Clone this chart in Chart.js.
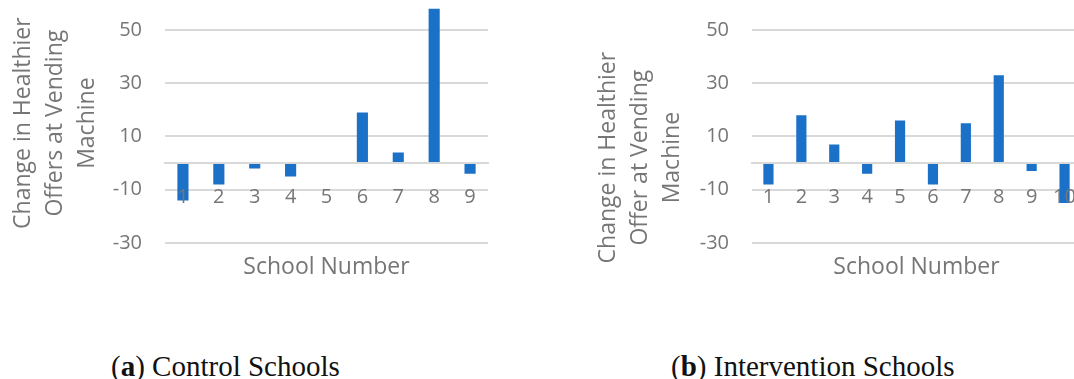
<!DOCTYPE html>
<html>
<head>
<meta charset="utf-8">
<script src="https://cdn.jsdelivr.net/npm/chart.js@4.4.1/dist/chart.umd.min.js"></script>
<style>
  html, body { margin: 0; padding: 0; background: #fff; }
  body { width: 1074px; height: 379px; position: relative; overflow: hidden; }
  #left { position: absolute; left: 0; top: 0; width: 500px; height: 300px; }
  #rightWrap { position: absolute; left: 560px; top: 0; width: 514px; height: 300px; overflow: hidden; }
  #right { position: absolute; left: 0; top: 0; width: 540px; height: 300px; }
  .caption { position: absolute; top: 352px; font-family: "Liberation Serif", serif; font-size: 29px; line-height: 29px; color: #111; white-space: nowrap; }
</style>
</head>
<body>
<canvas id="left" width="500" height="300"></canvas>
<div id="rightWrap"><canvas id="right" width="540" height="300"></canvas></div>
<div class="caption" style="left:111px">(<b>a</b>) Control Schools</div>
<div class="caption" style="left:671px">(<b>b</b>) Intervention Schools</div>
<script>
// School numbers and change in healthier vending offers per school
const CONTROL_SCHOOLS = ['1', '2', '3', '4', '5', '6', '7', '8', '9'];
const CONTROL_CHANGE = [-14, -8, -2, -5, 0, 19, 4, 58, -4];

const INTERVENTION_SCHOOLS = ['1', '2', '3', '4', '5', '6', '7', '8', '9', '10'];
const INTERVENTION_CHANGE = [-8, 18, 7, -4, 16, -8, 15, 33, -3, -15];

const Y_TICKS = [-30, -10, 10, 30, 50];
const Y_MIN = -30;
const Y_MAX = 60;

const X_TITLE = 'School Number';
const CONTROL_Y_TITLE = ['Change in Healthier', 'Offers at Vending', 'Machine'];
const INTERVENTION_Y_TITLE = ['Change in Healthier', 'Offer at Vending', 'Machine'];

const BAR_COLOR = '#1b70c8';
const GRID_COLOR = '#d9d9d9';
const TEXT_COLOR = '#767676';
const FONT_FAMILY = '"Open Sans", sans-serif';

// Draws the category-axis title under the plot and a multi-line rotated value-axis title
const axisTitles = {
  id: 'axisTitles',
  afterDraw(chart, args, o) {
    const { ctx, chartArea: a } = chart;
    ctx.save();
    ctx.fillStyle = TEXT_COLOR;
    ctx.font = '23px ' + FONT_FAMILY;
    ctx.textAlign = 'center';
    ctx.textBaseline = 'alphabetic';
    ctx.fillText(o.xTitle, (a.left + a.right) / 2, a.bottom + o.xGap);

    const n = o.yTitle.length;
    ctx.translate(a.left + o.yCenter, (a.top + a.bottom) / 2 + o.yShift);
    ctx.rotate(-Math.PI / 2);
    ctx.textBaseline = 'middle';
    o.yTitle.forEach((line, i) => {
      ctx.fillText(line, 0, (i - (n - 1) / 2) * o.lineGap);
    });
    ctx.restore();
  }
};

function makeChart(canvasId, labels, values, yTitle, layoutPad, axisWidth, titleOpts) {
  return new Chart(document.getElementById(canvasId), {
    type: 'bar',
    data: {
      labels: labels,
      datasets: [{
        data: values,
        backgroundColor: BAR_COLOR,
        borderWidth: 0,
        barPercentage: 0.31,
        categoryPercentage: 1.0
      }]
    },
    options: {
      responsive: false,
      animation: false,
      layout: { padding: layoutPad },
      plugins: {
        legend: { display: false },
        tooltip: { enabled: false },
        axisTitles: Object.assign({ xTitle: X_TITLE, yTitle: yTitle }, titleOpts)
      },
      scales: {
        x: {
          type: 'category',
          position: { y: 0 },
          offset: true,
          grid: { display: false },
          border: { display: true, color: GRID_COLOR, width: 2, z: 1 },
          ticks: {
            color: TEXT_COLOR,
            font: { family: FONT_FAMILY, size: 20 },
            padding: 14,
            maxRotation: 0,
            autoSkip: false,
            z: 1
          }
        },
        y: {
          min: Y_MIN,
          max: Y_MAX,
          afterBuildTicks: (s) => { s.ticks = Y_TICKS.map(v => ({ value: v })); },
          afterFit: (s) => { s.width = axisWidth; s.paddingTop = 0; s.paddingBottom = 0; },
          grid: { color: GRID_COLOR, lineWidth: 2, drawTicks: false },
          border: { display: false },
          ticks: {
            color: TEXT_COLOR,
            font: { family: FONT_FAMILY, size: 20 },
            padding: 23
          }
        }
      }
    },
    plugins: [axisTitles]
  });
}

makeChart('left', CONTROL_SCHOOLS, CONTROL_CHANGE, CONTROL_Y_TITLE,
  { left: 0, top: 3.3, right: 12, bottom: 57 }, 165,
  { xGap: 31, yCenter: -110, yShift: 0, lineGap: 32 });

makeChart('right', INTERVENTION_SCHOOLS, INTERVENTION_CHANGE, INTERVENTION_Y_TITLE,
  { left: 0, top: 3.3, right: 19, bottom: 57 }, 192,
  { xGap: 31, yCenter: -112, yShift: 34.5, lineGap: 32 });
</script>
</body>
</html>
